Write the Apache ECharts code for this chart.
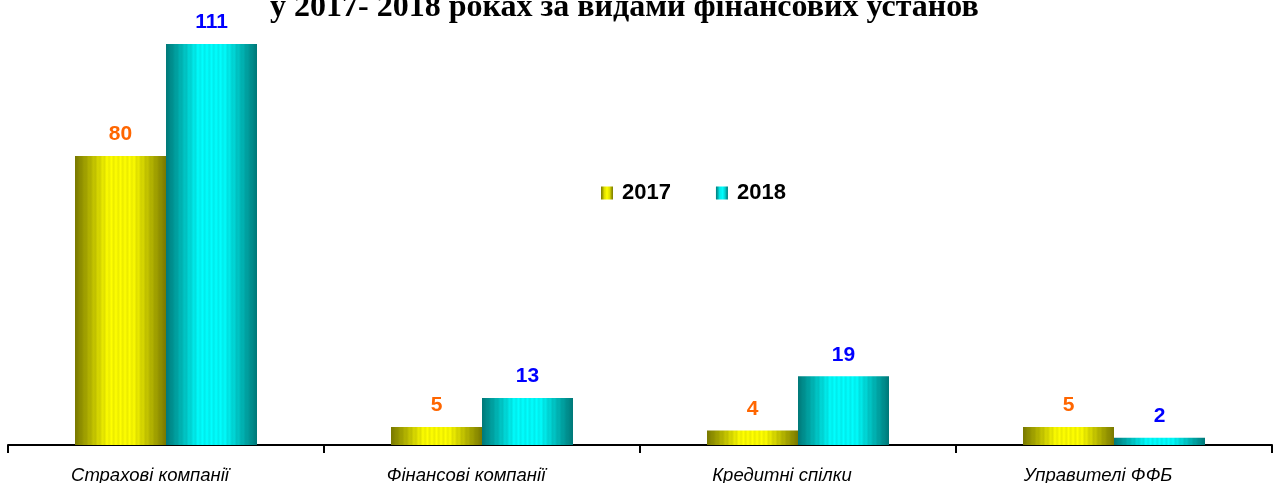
<!DOCTYPE html>
<html>
<head>
<meta charset="utf-8">
<script src="https://cdn.jsdelivr.net/npm/echarts@6/dist/echarts.min.js"></script>
<style>
  html, body { margin: 0; padding: 0; background: #fff; }
  #chart { width: 1278px; height: 483px; }
</style>
</head>
<body>
<div id="chart"></div>
<script>
  const categories = ['Страхові компанії', 'Фінансові компанії', 'Кредитні спілки', 'Управителі ФФБ']
  const data2017 = [80, 5, 4, 5]
  const data2018 = [111, 13, 19, 2]

  // striped horizontal gradient: dark edges, bright middle
  const stripes = (edge, mid) => {
    const stops = []
    const n = 40
    for (let i = 0; i <= n; i++) {
      const t = i / n
      let k = 1 - Math.abs(t - 0.5) * 2
      k = Math.min(1, k * 1.4)
      if (i % 2) k = k * 0.85
      const c = edge.map((e, j) => Math.round(e + (mid[j] - e) * k))
      stops.push({ offset: t, color: `rgb(${c[0]},${c[1]},${c[2]})` })
    }
    return new echarts.graphic.LinearGradient(0, 0, 1, 0, stops)
  }

  const yellow = stripes([120, 120, 0], [255, 255, 0])
  const cyan = stripes([0, 120, 120], [0, 255, 255])

  const chart = echarts.init(document.getElementById('chart'))

  chart.setOption({
    animation: false,
    title: {
      text: 'у 2017- 2018 роках за видами фінансових установ',
      left: 265,
      top: -13,
      textStyle: {
        fontFamily: 'Liberation Serif',
        fontWeight: 'bold',
        fontSize: 32,
        color: '#000'
      }
    },
    grid: {
      left: 8,
      right: 6,
      top: 44,
      bottom: 38,
      outerBoundsMode: 'none'
    },
    legend: {
      left: 596,
      top: 177,
      itemGap: 45,
      itemWidth: 12,
      itemHeight: 13,
      icon: 'rect',
      textStyle: {
        fontFamily: 'Liberation Sans',
        fontWeight: 'bold',
        fontSize: 22,
        color: '#000',
        padding: [0, 0, 0, 4]
      },
      data: ['2017', '2018']
    },
    xAxis: {
      type: 'category',
      data: categories,
      axisLine: { lineStyle: { color: '#000', width: 2 } },
      axisTick: { show: true, length: 8, lineStyle: { color: '#000', width: 2 } },
      axisLabel: {
        margin: 21,
        fontFamily: 'Liberation Sans',
        fontStyle: 'italic',
        fontSize: 18.5,
        color: '#000',
        padding: [0, 32, 0, 0]
      }
    },
    yAxis: {
      type: 'value',
      min: 0,
      max: 111,
      show: false,
      splitLine: { show: false }
    },
    series: [
      {
        name: '2017',
        type: 'bar',
        data: data2017,
        barWidth: 91,
        barGap: '0%',
        itemStyle: { color: yellow },
        label: {
          show: true,
          position: 'top',
          distance: 11,
          fontFamily: 'Liberation Sans',
          fontWeight: 'bold',
          fontSize: 21,
          color: '#FF6600'
        }
      },
      {
        name: '2018',
        type: 'bar',
        data: data2018,
        barWidth: 91,
        barGap: '0%',
        itemStyle: { color: cyan },
        label: {
          show: true,
          position: 'top',
          distance: 11,
          fontFamily: 'Liberation Sans',
          fontWeight: 'bold',
          fontSize: 21,
          color: '#0000FF'
        }
      }
    ]
  })
</script>
</body>
</html>
